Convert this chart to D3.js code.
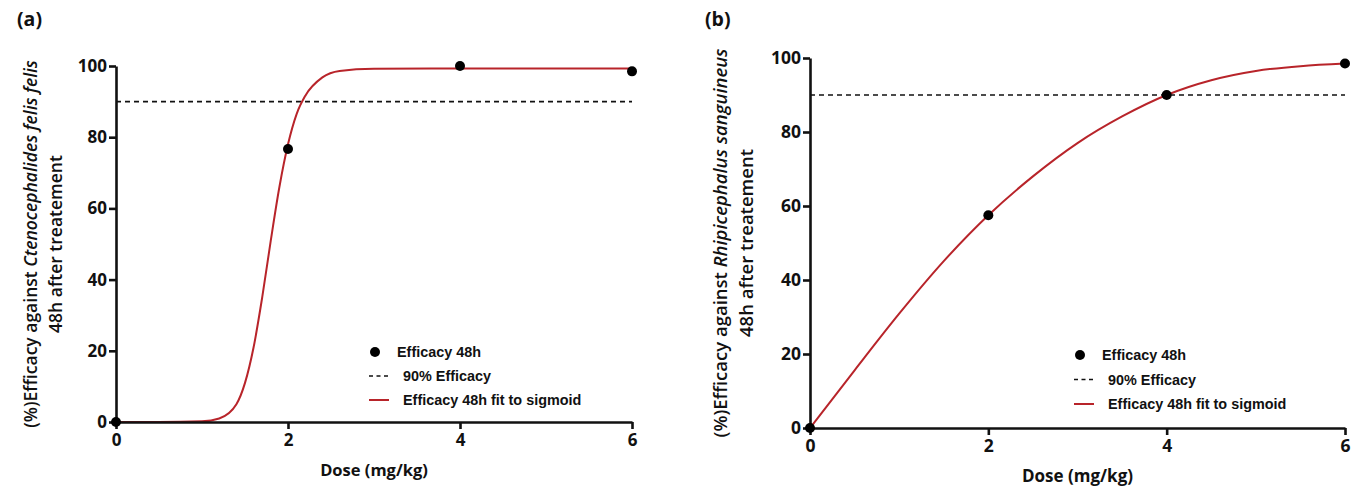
<!DOCTYPE html>
<html><head><meta charset="utf-8">
<script src="https://cdn.jsdelivr.net/npm/d3@7"></script>
<style>
html,body{margin:0;padding:0;background:#fff;}
svg{display:block;}
.tick text{font-family:"Open Sans",sans-serif;font-weight:700;fill:#111;}
</style></head>
<body>
<svg id="chart" width="1351" height="487"></svg>
<script>
// ---------- data ----------
const xTicks = [0, 2, 4, 6];
const yTicks = [0, 20, 40, 60, 80, 100];
const threshold = 90;
const legendLabels = ["Efficacy 48h", "90% Efficacy", "Efficacy 48h fit to sigmoid"];

// panel (a) Ctenocephalides felis felis
const doseA = [0, 2, 4, 6];
const effA = [0, 76.7, 100, 98.5];
const fitDoseA = [0, 0.5, 1.0, 1.2, 1.4, 1.5, 1.6, 1.7, 1.8, 1.9, 2.0, 2.1, 2.2, 2.4, 2.6, 3.0, 4.0, 6.0];
const fitEffA  = [0, 0, 0.2, 1, 5, 11, 21, 35, 51, 66, 78, 86.5, 91.6, 96.8, 98.6, 99.2, 99.3, 99.3];

// panel (b) Rhipicephalus sanguineus
const doseB = [0, 2, 4, 6];
const effB = [0, 57.5, 90, 98.5];
const fitDoseB = [0, 0.5, 1.0, 1.5, 2.0, 2.5, 3.0, 3.5, 4.0, 4.5, 5.0, 5.5, 6.0];
const fitEffB  = [0, 15.6, 30.9, 45.1, 57.5, 68, 77, 84.2, 90, 94, 96.5, 97.8, 98.5];

// ---------- drawing ----------
const svg = d3.select("#chart");
const RED = "#b8242a";

function drawPanel(o) {
  const x = d3.scaleLinear().domain([0, 6]).range([o.x0, o.x1]);
  const y = d3.scaleLinear().domain([0, 100]).range([o.y0, o.y1]);
  const g = svg.append("g");

  g.append("text").attr("x", o.labX).attr("y", o.labY)
    .attr("font-family", "Open Sans, sans-serif").attr("font-weight", 700).attr("font-size", 19.5)
    .attr("fill", "#111").text(o.label);

  g.append("line")
    .attr("x1", x(0)).attr("x2", x(6)).attr("y1", y(threshold)).attr("y2", y(threshold))
    .attr("stroke", "#111").attr("stroke-width", 1.6).attr("stroke-dasharray", "5,4");

  const line = d3.line().x(d => x(d[0])).y(d => y(d[1])).curve(d3.curveMonotoneX);
  g.append("path").datum(o.fitDose.map((d, i) => [d, o.fitEff[i]]))
    .attr("d", line).attr("fill", "none").attr("stroke", RED).attr("stroke-width", 2);

  const ya = g.append("g").attr("transform", `translate(${o.x0},0)`)
    .call(d3.axisLeft(y).tickValues(yTicks).tickFormat(d3.format("d")).tickSize(7).tickSizeOuter(0).tickPadding(2));
  const xa = g.append("g").attr("transform", `translate(0,${o.y0})`)
    .call(d3.axisBottom(x).tickValues(xTicks).tickFormat(d3.format("d")).tickSize(7).tickSizeOuter(0).tickPadding(5));
  [ya, xa].forEach(a => {
    a.select(".domain").attr("stroke", "#111").attr("stroke-width", 2.6);
    a.selectAll(".tick line").attr("stroke", "#111").attr("stroke-width", 2.6);
    a.selectAll(".tick text").attr("font-size", o.fs);
  });

  g.selectAll("circle.pt").data(o.dose.map((d, i) => [d, o.eff[i]])).enter()
    .append("circle").attr("class", "pt")
    .attr("cx", d => x(d[0])).attr("cy", d => y(d[1])).attr("r", 5).attr("fill", "#000");

  g.append("text").attr("x", (o.x0 + o.x1) / 2).attr("y", o.xtY)
    .attr("text-anchor", "middle").attr("font-family", "Open Sans, sans-serif")
    .attr("font-weight", 700).attr("font-size", o.fs - 0.5).attr("fill", "#111").text("Dose (mg/kg)");

  const cy = (o.y0 + o.y1) / 2;
  const t1 = g.append("text").attr("transform", `translate(${o.yt1X},${cy}) rotate(-90)`)
    .attr("text-anchor", "middle").attr("dominant-baseline", "central")
    .attr("font-family", "Open Sans, sans-serif").attr("font-weight", 600)
    .attr("font-size", o.yfs).attr("fill", "#111");
  t1.append("tspan").text("(%)Efficacy against ");
  t1.append("tspan").attr("font-style", "italic").text(o.species);
  g.append("text").attr("transform", `translate(${o.yt2X},${cy}) rotate(-90)`)
    .attr("text-anchor", "middle").attr("dominant-baseline", "central")
    .attr("font-family", "Open Sans, sans-serif").attr("font-weight", 600)
    .attr("font-size", o.yfs).attr("fill", "#111").text("48h after treatement");

  const lg = g.append("g").attr("font-family", "Liberation Sans, Arial, sans-serif")
    .attr("font-weight", 700).attr("font-size", 14.4).attr("fill", "#111");
  const L = o.leg;
  lg.append("circle").attr("cx", L.x + 3).attr("cy", L.y).attr("r", 5).attr("fill", "#000");
  lg.append("text").attr("x", L.x + 25).attr("y", L.y).attr("dominant-baseline", "central").text(legendLabels[0]);
  lg.append("line").attr("x1", L.x - 3).attr("x2", L.x + 16).attr("y1", L.y + L.dy).attr("y2", L.y + L.dy)
    .attr("stroke", "#111").attr("stroke-width", 1.6).attr("stroke-dasharray", "4,3.5");
  lg.append("text").attr("x", L.x + 31).attr("y", L.y + L.dy).attr("dominant-baseline", "central").text(legendLabels[1]);
  lg.append("line").attr("x1", L.x - 3).attr("x2", L.x + 17).attr("y1", L.y + 2 * L.dy).attr("y2", L.y + 2 * L.dy)
    .attr("stroke", RED).attr("stroke-width", 2);
  lg.append("text").attr("x", L.x + 31).attr("y", L.y + 2 * L.dy).attr("dominant-baseline", "central").text(legendLabels[2]);
}

drawPanel({
  label: "(a)", labX: 17, labY: 26,
  x0: 116, x1: 632, y0: 422, y1: 66,
  dose: doseA, eff: effA, fitDose: fitDoseA, fitEff: fitEffA,
  species: "Ctenocephalides felis felis",
  fs: 17, yfs: 17.5, yt1X: 30, yt2X: 55, xtY: 476,
  leg: { x: 372, y: 352, dy: 24 }
});

drawPanel({
  label: "(b)", labX: 705, labY: 26,
  x0: 810, x1: 1345, y0: 428, y1: 58,
  dose: doseB, eff: effB, fitDose: fitDoseB, fitEff: fitEffB,
  species: "Rhipicephalus sanguineus",
  fs: 17.5, yfs: 18.5, yt1X: 719, yt2X: 745, xtY: 482,
  leg: { x: 1077, y: 355, dy: 24.5 }
});
</script>
</body></html>
